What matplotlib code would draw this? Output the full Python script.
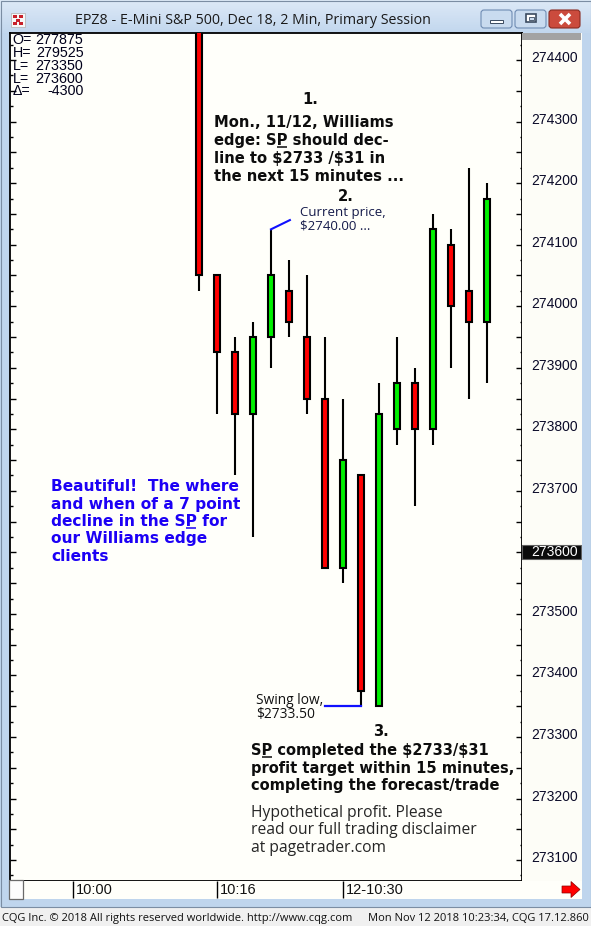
import numpy as np
import matplotlib
matplotlib.use('Agg')
import matplotlib.pyplot as plt
from matplotlib import transforms
from matplotlib.colors import LinearSegmentedColormap
from matplotlib.patches import Rectangle, FancyBboxPatch, Polygon

W, H = 591, 926

# 2 min bars, prices in CQG format (2740.50 -> 274050)
bar_open = [274600, 274050, 273925, 273825, 273950, 274025, 273950, 273850, 273575,
            273725, 273350, 273800, 273875, 273800, 274100, 274025, 273975]
bar_high = [274650, 274050, 273950, 273975, 274125, 274075, 274050, 273950, 273850,
            273725, 273875, 273950, 273900, 274150, 274125, 274225, 274200]
bar_low = [274025, 273825, 273725, 273625, 273900, 273950, 273825, 273575, 273550,
           273350, 273350, 273775, 273675, 273775, 273900, 273850, 273875]
bar_close = [274050, 273925, 273825, 273950, 274050, 273975, 273850, 273575, 273750,
             273375, 273825, 273875, 273800, 274125, 274000, 273975, 274175]

time_ticks = [-7, 1, 8]
time_labels = ['10:00', '10:16', '12-10:30']
price_labels = list(range(273100, 274401, 100))
info_names = ['O=', 'H=', 'L=', 'L=', '\u0394=']
info_values = ['277875', '279525', '273350', '273600', '-4300']
last_price = 273600
swing_low = 273350
pointer_price = 274140

y_lo, y_hi = 273066, 274444
x_lo = -10.5
bar_px = 18.0

BOLD = dict(family='DejaVu Sans', weight='bold', parse_math=False)
REG = dict(family='Open Sans', parse_math=False)
AXF = dict(family='Liberation Sans')

fig = plt.figure(figsize=(W / 100, H / 100), dpi=100)
fig.patch.set_facecolor('#bfd5ed')
renderer = fig.canvas.get_renderer()


def rect(l, t, r, b):
    return [l / W, 1 - b / H, (r - l) / W, (b - t) / H]


def clean(a, fc):
    a.set_facecolor(fc)
    a.set_xticks([])
    a.set_yticks([])
    for s in a.spines.values():
        s.set_visible(False)


# window chrome
bg = fig.add_axes([0, 0, 1, 1], zorder=0)
grad = LinearSegmentedColormap.from_list('title', ['#dde9f7', '#c2d7ee'])
bg.imshow(np.linspace(0, 1, 40)[:, None], cmap=grad, extent=(0, W, 33, 0), aspect='auto')
bg.set_xlim(0, W)
bg.set_ylim(H, 0)
bg.axis('off')
bg.add_patch(Rectangle((0, 907), W, 19, fc='#f0f0f0', ec='none'))
bg.add_patch(Rectangle((0.5, 0.5), W - 1, 906, fc='none', ec='#7b8da3', lw=0.8))

# icon
bg.add_patch(Rectangle((11, 13), 14, 14, fc='#f6f6f6', ec='#b0b0b0', lw=0.5))
for ix, iy in [(12.5, 15), (18.5, 15), (15.5, 19), (12.5, 22), (18.5, 22)]:
    bg.add_patch(Rectangle((ix, iy), 4, 3, fc='#c8202a', ec='none'))

# window buttons
for x0, fc, ec in [(481, '#c9dbef', '#6f8cb3'), (515, '#c9dbef', '#6f8cb3'), (549, '#cb4b3d', '#8a2b22')]:
    bg.add_patch(FancyBboxPatch((x0, 10), 31, 18, boxstyle='round,pad=0,rounding_size=3',
                                fc=fc, ec=ec, lw=0.8))
bg.add_patch(Rectangle((490, 19.5), 13, 3, fc='white', ec='#3a4a60', lw=0.7))
bg.add_patch(Rectangle((526, 14), 10, 8, fc='white', ec='#3a4a60', lw=1.2))
bg.add_patch(Rectangle((528.5, 16.5), 5, 3, fc='#c9dbef', ec='#3a4a60', lw=0.6))
bg.plot([560, 570], [14, 24], color='white', lw=2.6, solid_capstyle='butt')
bg.plot([560, 570], [24, 14], color='white', lw=2.6, solid_capstyle='butt')


def width(s, size, **kw):
    t = bg.text(0, 0, s, fontsize=size, **kw)
    w = t.get_window_extent(renderer).width
    t.remove()
    return w


def fit(s, target, **kw):
    return 10 * target / width(s, 10, **kw)


title = 'EPZ8 - E-Mini S&P 500, Dec 18, 2 Min, Primary Session'
bg.text(253, 24, title, ha='center', va='baseline', color='#1a1a1a',
        fontsize=fit(title, 355, **REG), **REG)

foot_l = 'CQG Inc. \u00a9 2018 All rights reserved worldwide. http://www.cqg.com'
foot_r = 'Mon Nov 12 2018 10:23:34, CQG 17.12.860'
fs_foot = fit(foot_l, 348, **REG)
bg.text(2, 921, foot_l, va='baseline', color='#111111', fontsize=fs_foot, **REG)
bg.text(589, 921, foot_r, ha='right', va='baseline', color='#111111', fontsize=fs_foot, **REG)

# price chart
ax = fig.add_axes(rect(10, 33, 522, 881), zorder=1)
ax.set_facecolor('#fffffa')
ax.set_xlim(x_lo, x_lo + 512 / bar_px)
ax.set_ylim(y_lo, y_hi)
ax.set_xticks([])
ax.set_yticks(range(273100, 274401, 50))
ax.set_yticks(range(273075, 274444, 50), minor=True)
ax.tick_params(axis='y', which='major', direction='in', left=True, right=True,
               length=4.3, width=1.0, labelleft=False)
ax.tick_params(axis='y', which='minor', direction='in', left=True, right=True,
               length=1.8, width=1.0)
for s in ax.spines.values():
    s.set_linewidth(1.3)
    s.set_color('black')

for i, (o, h, l, c) in enumerate(zip(bar_open, bar_high, bar_low, bar_close)):
    ax.vlines(i, l, h, color='black', lw=1.5, zorder=2)
    ax.add_patch(Rectangle((i - 0.19, min(o, c)), 0.38, abs(c - o),
                           fc='#00f000' if c > o else '#ff0000', ec='black', lw=1.5, zorder=3))

# leader lines
ax.plot([4, 5.05], [bar_high[4], pointer_price], color='#1010ff', lw=1.5, zorder=4)
ax.plot([7.0, 9.0], [swing_low, swing_low], color='#1010ff', lw=1.6, zorder=4)

# right price scale
rax = fig.add_axes(rect(522, 33, 582, 881), zorder=1)
clean(rax, '#fdfdf7')
rax.set_xlim(522, 582)
rax.set_ylim(y_lo, y_hi)
lab_tr = transforms.offset_copy(rax.transData, fig=fig, x=0, y=2, units='dots')
for p in price_labels:
    if p == last_price:
        continue
    rax.text(578, p, str(p), ha='right', va='center', fontsize=10, color='#0a0a28',
             transform=lab_tr, **AXF)
band = transforms.blended_transform_factory(rax.transAxes, rax.transData)
rax.add_patch(Rectangle((0, last_price - 11.4), 0.985, 22.8, transform=band,
                        fc='#0a0a0a', ec='#606060', lw=0.8))
rax.text(578, last_price, str(last_price), ha='right', va='center', fontsize=10,
         color='white', **AXF)
rax.add_patch(Rectangle((0, 1 - 7 / 848), 0.985, 7 / 848, transform=rax.transAxes,
                        fc='#a3a3a3', ec='none'))
rax.text(578, 274450, '274442', ha='right', va='center', fontsize=10, color='#202020',
         clip_on=True, **AXF)

# time scale
tax = fig.add_axes(rect(10, 881, 582, 899), zorder=1)
clean(tax, '#fffffa')
tax.set_xlim(x_lo, x_lo + 572 / bar_px)
tax.set_ylim(0, 1)
tax.vlines(time_ticks, 0.05, 1, color='black', lw=1.0)
t_tr = transforms.offset_copy(tax.transData, fig=fig, x=3, y=0, units='dots')
for t, s in zip(time_ticks, time_labels):
    tax.text(t, 0.3, s, va='baseline', fontsize=10.5, color='#111111', transform=t_tr, **AXF)

# annotations on top
top = fig.add_axes([0, 0, 1, 1], zorder=5)
top.set_xlim(0, W)
top.set_ylim(H, 0)
top.axis('off')
top.add_patch(Rectangle((9, 880), 14, 19, fc='#fdfdfd', ec='#6a6a6a', lw=0.9))
top.add_patch(Polygon([(562, 886), (571, 886), (571, 881.5), (580, 889.5), (571, 897.5),
                       (571, 893), (562, 893)], closed=True, fc='#ff0000', ec='#8a0000', lw=0.5))

for n, (name, val) in enumerate(zip(info_names, info_values)):
    yb = 44.5 + n * 12.7
    top.text(12.5, yb, name, va='baseline', fontsize=10.3, color='#00001a', **AXF)
    top.text(83.5, yb, val, va='baseline', ha='right', fontsize=10.3, color='#00001a', **AXF)


def block(x, y0, lines, step, size, color, font):
    for k, s in enumerate(lines):
        top.text(x, y0 + k * step, s, va='baseline', fontsize=size, color=color, **font)


def underline(x, y, s, idx, size, color, font):
    a = width(s[:idx], size, **font)
    b = width(s[:idx + 1], size, **font)
    top.plot([x + a + 0.5, x + b - 0.5], [y + 2, y + 2], color=color, lw=1.1,
             solid_capstyle='butt')


ink = '#0d0d0d'
blue = '#1c00f5'

mon = ['Mon., 11/12, Williams', 'edge: SP should dec-', 'line to $2733 /$31 in',
       'the next 15 minutes ...']
fs_mon = fit(mon[0], 180, **BOLD)
top.text(302, 104, '1.', va='baseline', fontsize=fs_mon, color=ink, **BOLD)
block(214, 127, mon, 18, fs_mon, ink, BOLD)
underline(214, 145, mon[1], 7, fs_mon, ink, BOLD)
top.text(338, 201, '2.', va='baseline', fontsize=fs_mon, color=ink, **BOLD)

cur = ['Current price,', '$2740.00 ...']
block(300, 216, cur, 14, fit(cur[0], 85, **REG), '#141a4a', REG)

nice = ['Beautiful!  The where', 'and when of a 7 point', 'decline in the SP for',
        'our Williams edge', 'clients']
fs_nice = fit(nice[0], 189, **BOLD)
block(51, 491, nice, 17.5, fs_nice, blue, BOLD)
underline(51, 491 + 2 * 17.5, nice[2], 16, fs_nice, blue, BOLD)

swing = ['Swing low,', '$2733.50']
block(256, 704, swing, 13.7, fit(swing[0], 67, **REG), '#111111', REG)

top.text(373, 736, '3.', va='baseline', fontsize=fs_mon, color=ink, **BOLD)
done = ['SP completed the $2733/$31', 'profit target within 15 minutes,',
        'completing the forecast/trade']
fs_done = fit(done[1], 261, **BOLD)
block(251, 755, done, 17.5, fs_done, ink, BOLD)
underline(251, 755, done[0], 1, fs_done, ink, BOLD)

hyp = ['Hypothetical profit. Please', 'read our full trading disclaimer', 'at pagetrader.com']
block(251, 817, hyp, 17.5, fit(hyp[0], 191, **REG), '#262626', REG)

fig.savefig('out.png', dpi=100, facecolor=fig.get_facecolor())
